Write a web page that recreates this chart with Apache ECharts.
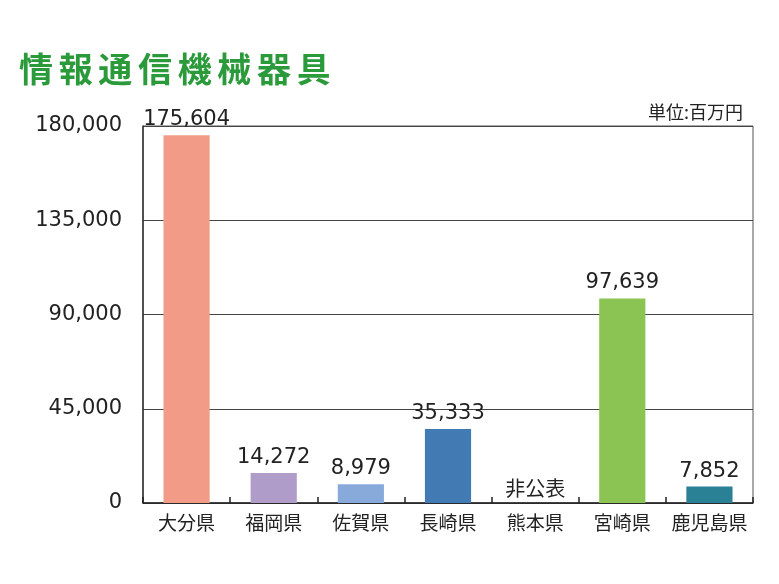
<!DOCTYPE html>
<html><head><meta charset="utf-8">
<script src="https://cdn.jsdelivr.net/npm/echarts@6/dist/echarts.min.js"></script>
<style>html,body{margin:0;padding:0;background:#fff}#c{width:779px;height:584px}</style>
</head><body><div id="c"></div>
<script>
const categories = ['大分県','福岡県','佐賀県','長崎県','熊本県','宮崎県','鹿児島県'];
const values = [175604, 14272, 8979, 35333, null, 97639, 7852];
const colors = ['#F29C87','#B09CC9','#87AADB','#427BB3','#FFFFFF','#8BC453','#2A8095'];
const undisclosedText = '非公表';
const yTicks = [0, 45000, 90000, 135000, 180000];
const titleText = '情報通信機械器具';
const unitText = '単位:百万円';

const jp = '"Noto Sans CJK JP", "Noto Sans", sans-serif';
const num = '"DejaVu Sans", "Noto Sans CJK JP", sans-serif';
const chart = echarts.init(document.getElementById('c'));
chart.setOption({
  animation: false,
  backgroundColor: '#fff',
  title: [
    {text: titleText.split('').join('\u2006'), left: 14, top: 47, textStyle: {fontFamily: jp, fontSize: 34, fontWeight: 'bold', color: '#2A9A3A'}},
    {text: unitText, right: 31, top: 98, textStyle: {fontFamily: jp, fontSize: 18, fontWeight: 'normal', color: '#222'}}
  ],
  grid: {left: 143, right: 26, top: 126, bottom: 81, show: true, borderColor: '#555', borderWidth: 1},
  xAxis: {
    type: 'category', data: categories,
    axisLine: {lineStyle: {color: '#222', width: 1.5}},
    axisTick: {show: true, inside: true, interval: 0, length: 6, lineStyle: {color: '#222', width: 1.5}},
    axisLabel: {interval: 0, fontFamily: jp, fontSize: 19, color: '#222', margin: 10}
  },
  yAxis: {
    type: 'value', min: yTicks[0], max: yTicks[yTicks.length-1], interval: yTicks[1]-yTicks[0],
    axisLine: {show: true, lineStyle: {color: '#333', width: 1.5}},
    axisTick: {show: false},
    splitLine: {lineStyle: {color: '#444', width: 1}},
    axisLabel: {fontFamily: num, fontSize: 21, color: '#222', margin: 21,
      formatter: v => v.toLocaleString('en-US')}
  },
  series: [{
    type: 'bar', barWidth: '53%',
    data: values.map((v, i) => ({value: v === null ? 0 : v, itemStyle: {color: colors[i]}})),
    label: {show: true, position: 'top', distance: 5, fontFamily: num, fontSize: 21, color: '#222',
      rich: {jp: {fontFamily: jp, fontSize: 20, color: '#222'}},
      formatter: p => values[p.dataIndex] === null ? '{jp|' + undisclosedText + '}' : values[p.dataIndex].toLocaleString('en-US')}
  }]
});
</script></body></html>
